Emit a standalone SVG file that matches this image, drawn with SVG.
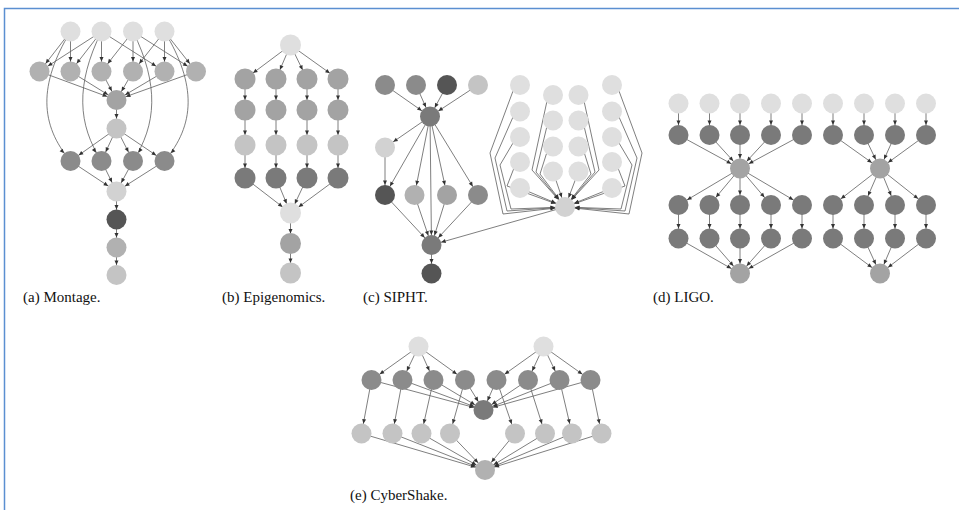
<svg xmlns="http://www.w3.org/2000/svg" width="959" height="510" viewBox="0 0 959 510">
<defs>
<marker id="ah" markerUnits="userSpaceOnUse" markerWidth="20" markerHeight="10" refX="14.5" refY="2" orient="auto" overflow="visible"><path d="M0,0 L4.5,2 L0,4 z" fill="#333"/></marker>
<style>
.e{stroke:#5e5e5e;stroke-width:0.8;fill:none;marker-end:url(#ah)}
circle{stroke:none}
.l0{fill:#dfdfdf}.l1{fill:#d2d2d2}.l2{fill:#c4c4c4}.m1{fill:#b1b1b1}.m2{fill:#a3a3a3}.m3{fill:#8b8b8b}.d1{fill:#7a7a7a}.d2{fill:#555555}
.lab{font-family:"Liberation Serif","DejaVu Serif",serif;font-size:15px;fill:#111}
</style>
</defs>
<rect width="959" height="510" fill="#fff"/>
<path d="M4.5,510 L4.5,8.5 L959,8.5" stroke="#5b8fd1" stroke-width="1.5" fill="none"/>

<g id="connectors">
<!-- Montage -->
<line class="e" x1="70.5" y1="31.5" x2="39.5" y2="71.5"/>
<line class="e" x1="70.5" y1="31.5" x2="70.5" y2="71.5"/>
<line class="e" x1="101.5" y1="31.5" x2="39.5" y2="71.5"/>
<line class="e" x1="101.5" y1="31.5" x2="70.5" y2="71.5"/>
<line class="e" x1="101.5" y1="31.5" x2="101.5" y2="71.5"/>
<line class="e" x1="101.5" y1="31.5" x2="164.5" y2="71.5"/>
<line class="e" x1="133" y1="31.5" x2="101.5" y2="71.5"/>
<line class="e" x1="133" y1="31.5" x2="133" y2="71.5"/>
<line class="e" x1="133" y1="31.5" x2="196" y2="71.5"/>
<line class="e" x1="164.5" y1="31.5" x2="133" y2="71.5"/>
<line class="e" x1="164.5" y1="31.5" x2="164.5" y2="71.5"/>
<line class="e" x1="164.5" y1="31.5" x2="196" y2="71.5"/>
<path class="e" d="M70.5,31.5 C38,85 40,125 70.5,161"/>
<path class="e" d="M101.5,31.5 C75,85 78,125 101.5,161"/>
<path class="e" d="M133,31.5 C159.5,85 156.5,125 133,161"/>
<path class="e" d="M164.5,31.5 C197,85 195,125 164.5,161"/>
<line class="e" x1="39.5" y1="71.5" x2="116.5" y2="100"/>
<line class="e" x1="70.5" y1="71.5" x2="116.5" y2="100"/>
<line class="e" x1="101.5" y1="71.5" x2="116.5" y2="100"/>
<line class="e" x1="133" y1="71.5" x2="116.5" y2="100"/>
<line class="e" x1="164.5" y1="71.5" x2="116.5" y2="100"/>
<line class="e" x1="196" y1="71.5" x2="116.5" y2="100"/>
<line class="e" x1="116.5" y1="100" x2="116.5" y2="128.5"/>
<line class="e" x1="116.5" y1="128.5" x2="70.5" y2="161"/>
<line class="e" x1="116.5" y1="128.5" x2="101.5" y2="161"/>
<line class="e" x1="116.5" y1="128.5" x2="133" y2="161"/>
<line class="e" x1="116.5" y1="128.5" x2="164.5" y2="161"/>
<line class="e" x1="70.5" y1="161" x2="116.5" y2="191.5"/>
<line class="e" x1="101.5" y1="161" x2="116.5" y2="191.5"/>
<line class="e" x1="133" y1="161" x2="116.5" y2="191.5"/>
<line class="e" x1="164.5" y1="161" x2="116.5" y2="191.5"/>
<line class="e" x1="116.5" y1="191.5" x2="116.5" y2="219.5"/>
<line class="e" x1="116.5" y1="219.5" x2="116.5" y2="247.5"/>
<line class="e" x1="116.5" y1="247.5" x2="116.5" y2="275"/>
<!-- Epigenomics -->
<line class="e" x1="290.5" y1="45" x2="245" y2="79"/>
<line class="e" x1="290.5" y1="45" x2="276" y2="79"/>
<line class="e" x1="290.5" y1="45" x2="307" y2="79"/>
<line class="e" x1="290.5" y1="45" x2="338" y2="79"/>
<line class="e" x1="245" y1="79" x2="245" y2="110"/>
<line class="e" x1="276" y1="79" x2="276" y2="110"/>
<line class="e" x1="307" y1="79" x2="307" y2="110"/>
<line class="e" x1="338" y1="79" x2="338" y2="110"/>
<line class="e" x1="245" y1="110" x2="245" y2="145"/>
<line class="e" x1="276" y1="110" x2="276" y2="145"/>
<line class="e" x1="307" y1="110" x2="307" y2="145"/>
<line class="e" x1="338" y1="110" x2="338" y2="145"/>
<line class="e" x1="245" y1="145" x2="245" y2="178"/>
<line class="e" x1="276" y1="145" x2="276" y2="178"/>
<line class="e" x1="307" y1="145" x2="307" y2="178"/>
<line class="e" x1="338" y1="145" x2="338" y2="178"/>
<line class="e" x1="245" y1="178" x2="290.5" y2="213"/>
<line class="e" x1="276" y1="178" x2="290.5" y2="213"/>
<line class="e" x1="307" y1="178" x2="290.5" y2="213"/>
<line class="e" x1="338" y1="178" x2="290.5" y2="213"/>
<line class="e" x1="290.5" y1="213" x2="290.5" y2="243.5"/>
<line class="e" x1="290.5" y1="243.5" x2="290.5" y2="273"/>
<!-- SIPHT -->
<line class="e" x1="385" y1="85" x2="430" y2="116.5"/>
<line class="e" x1="416" y1="85" x2="430" y2="116.5"/>
<line class="e" x1="447" y1="85" x2="430" y2="116.5"/>
<line class="e" x1="478" y1="85" x2="430" y2="116.5"/>
<line class="e" x1="430" y1="116.5" x2="385" y2="147.5"/>
<line class="e" x1="430" y1="116.5" x2="385" y2="195"/>
<line class="e" x1="430" y1="116.5" x2="414.5" y2="195"/>
<line class="e" x1="430" y1="116.5" x2="447" y2="195"/>
<line class="e" x1="430" y1="116.5" x2="478" y2="195"/>
<line class="e" x1="430" y1="116.5" x2="431.5" y2="245"/>
<line class="e" x1="385" y1="147.5" x2="385" y2="195"/>
<line class="e" x1="385" y1="195" x2="431.5" y2="245"/>
<line class="e" x1="414.5" y1="195" x2="431.5" y2="245"/>
<line class="e" x1="447" y1="195" x2="431.5" y2="245"/>
<line class="e" x1="478" y1="195" x2="431.5" y2="245"/>
<line class="e" x1="431.5" y1="245" x2="431.5" y2="273.5"/>
<line class="e" x1="565" y1="207" x2="431.5" y2="245"/>
<path class="e" d="M513,91 L490,153 L503,214 L565,207"/>
<path class="e" d="M513,117 L495,158 L507,211 L565,207"/>
<path class="e" d="M513,143 L500,165 L511,209 L565,207"/>
<path class="e" d="M514,168 L507,186 L565,207"/>
<line class="e" x1="520" y1="188" x2="565" y2="207"/>
<path class="e" d="M547,101 L532,170 L565,207"/>
<path class="e" d="M547,126 L536,172 L565,207"/>
<path class="e" d="M547,152 L540,174 L565,207"/>
<line class="e" x1="553" y1="171.5" x2="565" y2="207"/>
<path class="e" d="M584,101 L599,170 L565,207"/>
<path class="e" d="M584,126 L595,172 L565,207"/>
<path class="e" d="M584,152 L591,174 L565,207"/>
<line class="e" x1="578.5" y1="171.5" x2="565" y2="207"/>
<path class="e" d="M619,91 L642,153 L629,214 L565,207"/>
<path class="e" d="M619,117 L637,158 L625,211 L565,207"/>
<path class="e" d="M619,143 L632,165 L621,209 L565,207"/>
<path class="e" d="M618,168 L625,186 L565,207"/>
<line class="e" x1="612" y1="188" x2="565" y2="207"/>
<!-- LIGO -->
<line class="e" x1="678.5" y1="103.5" x2="678.5" y2="135"/>
<line class="e" x1="709.5" y1="103.5" x2="709.5" y2="135"/>
<line class="e" x1="740" y1="103.5" x2="740" y2="135"/>
<line class="e" x1="771" y1="103.5" x2="771" y2="135"/>
<line class="e" x1="802" y1="103.5" x2="802" y2="135"/>
<line class="e" x1="833" y1="103.5" x2="833" y2="135"/>
<line class="e" x1="864" y1="103.5" x2="864" y2="135"/>
<line class="e" x1="895" y1="103.5" x2="895" y2="135"/>
<line class="e" x1="926" y1="103.5" x2="926" y2="135"/>
<line class="e" x1="678.5" y1="135" x2="740" y2="168.5"/>
<line class="e" x1="709.5" y1="135" x2="740" y2="168.5"/>
<line class="e" x1="740" y1="135" x2="740" y2="168.5"/>
<line class="e" x1="771" y1="135" x2="740" y2="168.5"/>
<line class="e" x1="802" y1="135" x2="740" y2="168.5"/>
<line class="e" x1="833" y1="135" x2="880" y2="168.5"/>
<line class="e" x1="864" y1="135" x2="880" y2="168.5"/>
<line class="e" x1="895" y1="135" x2="880" y2="168.5"/>
<line class="e" x1="926" y1="135" x2="880" y2="168.5"/>
<line class="e" x1="740" y1="168.5" x2="678.5" y2="205"/>
<line class="e" x1="740" y1="168.5" x2="709.5" y2="205"/>
<line class="e" x1="740" y1="168.5" x2="740" y2="205"/>
<line class="e" x1="740" y1="168.5" x2="771" y2="205"/>
<line class="e" x1="740" y1="168.5" x2="802" y2="205"/>
<line class="e" x1="880" y1="168.5" x2="833" y2="205"/>
<line class="e" x1="880" y1="168.5" x2="864" y2="205"/>
<line class="e" x1="880" y1="168.5" x2="895" y2="205"/>
<line class="e" x1="880" y1="168.5" x2="926" y2="205"/>
<line class="e" x1="678.5" y1="205" x2="678.5" y2="238.5"/>
<line class="e" x1="709.5" y1="205" x2="709.5" y2="238.5"/>
<line class="e" x1="740" y1="205" x2="740" y2="238.5"/>
<line class="e" x1="771" y1="205" x2="771" y2="238.5"/>
<line class="e" x1="802" y1="205" x2="802" y2="238.5"/>
<line class="e" x1="833" y1="205" x2="833" y2="238.5"/>
<line class="e" x1="864" y1="205" x2="864" y2="238.5"/>
<line class="e" x1="895" y1="205" x2="895" y2="238.5"/>
<line class="e" x1="926" y1="205" x2="926" y2="238.5"/>
<line class="e" x1="678.5" y1="238.5" x2="740" y2="273.5"/>
<line class="e" x1="709.5" y1="238.5" x2="740" y2="273.5"/>
<line class="e" x1="740" y1="238.5" x2="740" y2="273.5"/>
<line class="e" x1="771" y1="238.5" x2="740" y2="273.5"/>
<line class="e" x1="802" y1="238.5" x2="740" y2="273.5"/>
<line class="e" x1="833" y1="238.5" x2="880" y2="273.5"/>
<line class="e" x1="864" y1="238.5" x2="880" y2="273.5"/>
<line class="e" x1="895" y1="238.5" x2="880" y2="273.5"/>
<line class="e" x1="926" y1="238.5" x2="880" y2="273.5"/>
<!-- CyberShake -->
<line class="e" x1="418.5" y1="346.5" x2="371.5" y2="380"/>
<line class="e" x1="418.5" y1="346.5" x2="402.5" y2="380"/>
<line class="e" x1="418.5" y1="346.5" x2="433.5" y2="380"/>
<line class="e" x1="418.5" y1="346.5" x2="465" y2="380"/>
<line class="e" x1="543.5" y1="346.5" x2="496.5" y2="380"/>
<line class="e" x1="543.5" y1="346.5" x2="528" y2="380"/>
<line class="e" x1="543.5" y1="346.5" x2="559.5" y2="380"/>
<line class="e" x1="543.5" y1="346.5" x2="590.5" y2="380"/>
<line class="e" x1="371.5" y1="380" x2="483.5" y2="410"/>
<line class="e" x1="402.5" y1="380" x2="483.5" y2="410"/>
<line class="e" x1="433.5" y1="380" x2="483.5" y2="410"/>
<line class="e" x1="465" y1="380" x2="483.5" y2="410"/>
<line class="e" x1="496.5" y1="380" x2="483.5" y2="410"/>
<line class="e" x1="528" y1="380" x2="483.5" y2="410"/>
<line class="e" x1="559.5" y1="380" x2="483.5" y2="410"/>
<line class="e" x1="590.5" y1="380" x2="483.5" y2="410"/>
<line class="e" x1="371.5" y1="380" x2="361.5" y2="433.5"/>
<line class="e" x1="402.5" y1="380" x2="392.5" y2="433.5"/>
<line class="e" x1="433.5" y1="380" x2="421.5" y2="433.5"/>
<line class="e" x1="465" y1="380" x2="450" y2="433.5"/>
<line class="e" x1="496.5" y1="380" x2="515" y2="433.5"/>
<line class="e" x1="528" y1="380" x2="545" y2="433.5"/>
<line class="e" x1="559.5" y1="380" x2="572" y2="433.5"/>
<line class="e" x1="590.5" y1="380" x2="601.5" y2="433.5"/>
<line class="e" x1="361.5" y1="433.5" x2="485" y2="470"/>
<line class="e" x1="392.5" y1="433.5" x2="485" y2="470"/>
<line class="e" x1="421.5" y1="433.5" x2="485" y2="470"/>
<line class="e" x1="450" y1="433.5" x2="485" y2="470"/>
<line class="e" x1="515" y1="433.5" x2="485" y2="470"/>
<line class="e" x1="545" y1="433.5" x2="485" y2="470"/>
<line class="e" x1="572" y1="433.5" x2="485" y2="470"/>
<line class="e" x1="601.5" y1="433.5" x2="485" y2="470"/>
</g>

<g id="montage">
<g id="mo-t1"><circle class="l0" cx="70.5" cy="31.5" r="10"/></g>
<g id="mo-t2"><circle class="l0" cx="101.5" cy="31.5" r="10"/></g>
<g id="mo-t3"><circle class="l0" cx="133" cy="31.5" r="10"/></g>
<g id="mo-t4"><circle class="l0" cx="164.5" cy="31.5" r="10"/></g>
<g id="mo-d1"><circle class="m1" cx="39.5" cy="71.5" r="10"/></g>
<g id="mo-d2"><circle class="m1" cx="70.5" cy="71.5" r="10"/></g>
<g id="mo-d3"><circle class="m1" cx="101.5" cy="71.5" r="10"/></g>
<g id="mo-d4"><circle class="m1" cx="133" cy="71.5" r="10"/></g>
<g id="mo-d5"><circle class="m1" cx="164.5" cy="71.5" r="10"/></g>
<g id="mo-d6"><circle class="m1" cx="196" cy="71.5" r="10"/></g>
<g id="mo-cf"><circle class="m2" cx="116.5" cy="100" r="10"/></g>
<g id="mo-bg"><circle class="l2" cx="116.5" cy="128.5" r="10"/></g>
<g id="mo-b1"><circle class="m3" cx="70.5" cy="161" r="10"/></g>
<g id="mo-b2"><circle class="m3" cx="101.5" cy="161" r="10"/></g>
<g id="mo-b3"><circle class="m3" cx="133" cy="161" r="10"/></g>
<g id="mo-b4"><circle class="m3" cx="164.5" cy="161" r="10"/></g>
<g id="mo-it"><circle class="l1" cx="116.5" cy="191.5" r="10"/></g>
<g id="mo-ad"><circle class="d2" cx="116.5" cy="219.5" r="10"/></g>
<g id="mo-sh"><circle class="m1" cx="116.5" cy="247.5" r="10"/></g>
<g id="mo-jp"><circle class="l2" cx="116.5" cy="275" r="10"/></g>
</g>

<g id="epigenomics">
<g id="ep-0"><circle class="l0" cx="290.5" cy="45" r="10.5"/></g>
<g id="ep-a1"><circle class="m2" cx="245" cy="79" r="10.5"/></g>
<g id="ep-a2"><circle class="m2" cx="276" cy="79" r="10.5"/></g>
<g id="ep-a3"><circle class="m2" cx="307" cy="79" r="10.5"/></g>
<g id="ep-a4"><circle class="m2" cx="338" cy="79" r="10.5"/></g>
<g id="ep-b1"><circle class="m2" cx="245" cy="110" r="10.5"/></g>
<g id="ep-b2"><circle class="m2" cx="276" cy="110" r="10.5"/></g>
<g id="ep-b3"><circle class="m2" cx="307" cy="110" r="10.5"/></g>
<g id="ep-b4"><circle class="m2" cx="338" cy="110" r="10.5"/></g>
<g id="ep-c1"><circle class="l2" cx="245" cy="145" r="10.5"/></g>
<g id="ep-c2"><circle class="l2" cx="276" cy="145" r="10.5"/></g>
<g id="ep-c3"><circle class="l2" cx="307" cy="145" r="10.5"/></g>
<g id="ep-c4"><circle class="l2" cx="338" cy="145" r="10.5"/></g>
<g id="ep-d1"><circle class="d1" cx="245" cy="178" r="10.5"/></g>
<g id="ep-d2"><circle class="d1" cx="276" cy="178" r="10.5"/></g>
<g id="ep-d3"><circle class="d1" cx="307" cy="178" r="10.5"/></g>
<g id="ep-d4"><circle class="d1" cx="338" cy="178" r="10.5"/></g>
<g id="ep-m"><circle class="l0" cx="290.5" cy="213" r="10.5"/></g>
<g id="ep-n"><circle class="m2" cx="290.5" cy="243.5" r="10.5"/></g>
<g id="ep-l"><circle class="l2" cx="290.5" cy="273" r="10.5"/></g>
</g>

<g id="sipht">
<g id="si-t1"><circle class="m3" cx="385" cy="85" r="10"/></g>
<g id="si-t2"><circle class="m3" cx="416" cy="85" r="10"/></g>
<g id="si-t3"><circle class="d2" cx="447" cy="85" r="10"/></g>
<g id="si-t4"><circle class="l2" cx="478" cy="85" r="10"/></g>
<g id="si-a"><circle class="d1" cx="430" cy="116.5" r="10"/></g>
<g id="si-b"><circle class="l1" cx="385" cy="147.5" r="10"/></g>
<g id="si-r1"><circle class="d2" cx="385" cy="195" r="10"/></g>
<g id="si-r2"><circle class="m1" cx="414.5" cy="195" r="10"/></g>
<g id="si-r3"><circle class="m2" cx="447" cy="195" r="10"/></g>
<g id="si-r4"><circle class="m3" cx="478" cy="195" r="10"/></g>
<g id="si-c"><circle class="d1" cx="431.5" cy="245" r="10"/></g>
<g id="si-d"><circle class="d2" cx="431.5" cy="273.5" r="10"/></g>
<g id="si-hub"><circle class="l1" cx="565" cy="207" r="10"/></g>
<g id="si-p1"><circle class="l0" cx="520" cy="85" r="10"/></g>
<g id="si-p2"><circle class="l0" cx="520" cy="111.5" r="10"/></g>
<g id="si-p3"><circle class="l0" cx="520" cy="137" r="10"/></g>
<g id="si-p4"><circle class="l0" cx="520" cy="162" r="10"/></g>
<g id="si-p5"><circle class="l0" cx="520" cy="188" r="10"/></g>
<g id="si-q1"><circle class="l0" cx="553" cy="95" r="10"/></g>
<g id="si-q2"><circle class="l0" cx="553" cy="120.5" r="10"/></g>
<g id="si-q3"><circle class="l0" cx="553" cy="146.5" r="10"/></g>
<g id="si-q4"><circle class="l0" cx="553" cy="171.5" r="10"/></g>
<g id="si-s1"><circle class="l0" cx="578.5" cy="95" r="10"/></g>
<g id="si-s2"><circle class="l0" cx="578.5" cy="120.5" r="10"/></g>
<g id="si-s3"><circle class="l0" cx="578.5" cy="146.5" r="10"/></g>
<g id="si-s4"><circle class="l0" cx="578.5" cy="171.5" r="10"/></g>
<g id="si-u1"><circle class="l0" cx="612" cy="85" r="10"/></g>
<g id="si-u2"><circle class="l0" cx="612" cy="111.5" r="10"/></g>
<g id="si-u3"><circle class="l0" cx="612" cy="137" r="10"/></g>
<g id="si-u4"><circle class="l0" cx="612" cy="162" r="10"/></g>
<g id="si-u5"><circle class="l0" cx="612" cy="188" r="10"/></g>
</g>

<g id="ligo">
<g id="li-t1"><circle class="l0" cx="678.5" cy="103.5" r="10"/></g>
<g id="li-t2"><circle class="l0" cx="709.5" cy="103.5" r="10"/></g>
<g id="li-t3"><circle class="l0" cx="740" cy="103.5" r="10"/></g>
<g id="li-t4"><circle class="l0" cx="771" cy="103.5" r="10"/></g>
<g id="li-t5"><circle class="l0" cx="802" cy="103.5" r="10"/></g>
<g id="li-t6"><circle class="l0" cx="833" cy="103.5" r="10"/></g>
<g id="li-t7"><circle class="l0" cx="864" cy="103.5" r="10"/></g>
<g id="li-t8"><circle class="l0" cx="895" cy="103.5" r="10"/></g>
<g id="li-t9"><circle class="l0" cx="926" cy="103.5" r="10"/></g>
<g id="li-a1"><circle class="d1" cx="678.5" cy="135" r="10"/></g>
<g id="li-a2"><circle class="d1" cx="709.5" cy="135" r="10"/></g>
<g id="li-a3"><circle class="d1" cx="740" cy="135" r="10"/></g>
<g id="li-a4"><circle class="d1" cx="771" cy="135" r="10"/></g>
<g id="li-a5"><circle class="d1" cx="802" cy="135" r="10"/></g>
<g id="li-a6"><circle class="d1" cx="833" cy="135" r="10"/></g>
<g id="li-a7"><circle class="d1" cx="864" cy="135" r="10"/></g>
<g id="li-a8"><circle class="d1" cx="895" cy="135" r="10"/></g>
<g id="li-a9"><circle class="d1" cx="926" cy="135" r="10"/></g>
<g id="li-h1"><circle class="m2" cx="740" cy="168.5" r="10"/></g>
<g id="li-h2"><circle class="m2" cx="880" cy="168.5" r="10"/></g>
<g id="li-b1"><circle class="d1" cx="678.5" cy="205" r="10"/></g>
<g id="li-b2"><circle class="d1" cx="709.5" cy="205" r="10"/></g>
<g id="li-b3"><circle class="d1" cx="740" cy="205" r="10"/></g>
<g id="li-b4"><circle class="d1" cx="771" cy="205" r="10"/></g>
<g id="li-b5"><circle class="d1" cx="802" cy="205" r="10"/></g>
<g id="li-b6"><circle class="d1" cx="833" cy="205" r="10"/></g>
<g id="li-b7"><circle class="d1" cx="864" cy="205" r="10"/></g>
<g id="li-b8"><circle class="d1" cx="895" cy="205" r="10"/></g>
<g id="li-b9"><circle class="d1" cx="926" cy="205" r="10"/></g>
<g id="li-c1"><circle class="d1" cx="678.5" cy="238.5" r="10"/></g>
<g id="li-c2"><circle class="d1" cx="709.5" cy="238.5" r="10"/></g>
<g id="li-c3"><circle class="d1" cx="740" cy="238.5" r="10"/></g>
<g id="li-c4"><circle class="d1" cx="771" cy="238.5" r="10"/></g>
<g id="li-c5"><circle class="d1" cx="802" cy="238.5" r="10"/></g>
<g id="li-c6"><circle class="d1" cx="833" cy="238.5" r="10"/></g>
<g id="li-c7"><circle class="d1" cx="864" cy="238.5" r="10"/></g>
<g id="li-c8"><circle class="d1" cx="895" cy="238.5" r="10"/></g>
<g id="li-c9"><circle class="d1" cx="926" cy="238.5" r="10"/></g>
<g id="li-z1"><circle class="m2" cx="740" cy="273.5" r="10"/></g>
<g id="li-z2"><circle class="m2" cx="880" cy="273.5" r="10"/></g>
</g>

<g id="cybershake">
<g id="cy-t1"><circle class="l0" cx="418.5" cy="346.5" r="10"/></g>
<g id="cy-t2"><circle class="l0" cx="543.5" cy="346.5" r="10"/></g>
<g id="cy-a1"><circle class="m3" cx="371.5" cy="380" r="10"/></g>
<g id="cy-a2"><circle class="m3" cx="402.5" cy="380" r="10"/></g>
<g id="cy-a3"><circle class="m3" cx="433.5" cy="380" r="10"/></g>
<g id="cy-a4"><circle class="m3" cx="465" cy="380" r="10"/></g>
<g id="cy-a5"><circle class="m3" cx="496.5" cy="380" r="10"/></g>
<g id="cy-a6"><circle class="m3" cx="528" cy="380" r="10"/></g>
<g id="cy-a7"><circle class="m3" cx="559.5" cy="380" r="10"/></g>
<g id="cy-a8"><circle class="m3" cx="590.5" cy="380" r="10"/></g>
<g id="cy-mid"><circle class="d1" cx="483.5" cy="410" r="10"/></g>
<g id="cy-b1"><circle class="l2" cx="361.5" cy="433.5" r="10"/></g>
<g id="cy-b2"><circle class="l2" cx="392.5" cy="433.5" r="10"/></g>
<g id="cy-b3"><circle class="l2" cx="421.5" cy="433.5" r="10"/></g>
<g id="cy-b4"><circle class="l2" cx="450" cy="433.5" r="10"/></g>
<g id="cy-b5"><circle class="l2" cx="515" cy="433.5" r="10"/></g>
<g id="cy-b6"><circle class="l2" cx="545" cy="433.5" r="10"/></g>
<g id="cy-b7"><circle class="l2" cx="572" cy="433.5" r="10"/></g>
<g id="cy-b8"><circle class="l2" cx="601.5" cy="433.5" r="10"/></g>
<g id="cy-z"><circle class="m1" cx="485" cy="470" r="10"/></g>
</g>

<g id="labels">
<text class="lab" x="23" y="302">(a) Montage.</text>
<text class="lab" x="222" y="302">(b) Epigenomics.</text>
<text class="lab" x="363" y="302">(c) SIPHT.</text>
<text class="lab" x="653" y="302">(d) LIGO.</text>
<text class="lab" x="350" y="500">(e) CyberShake.</text>
</g>
</svg>
